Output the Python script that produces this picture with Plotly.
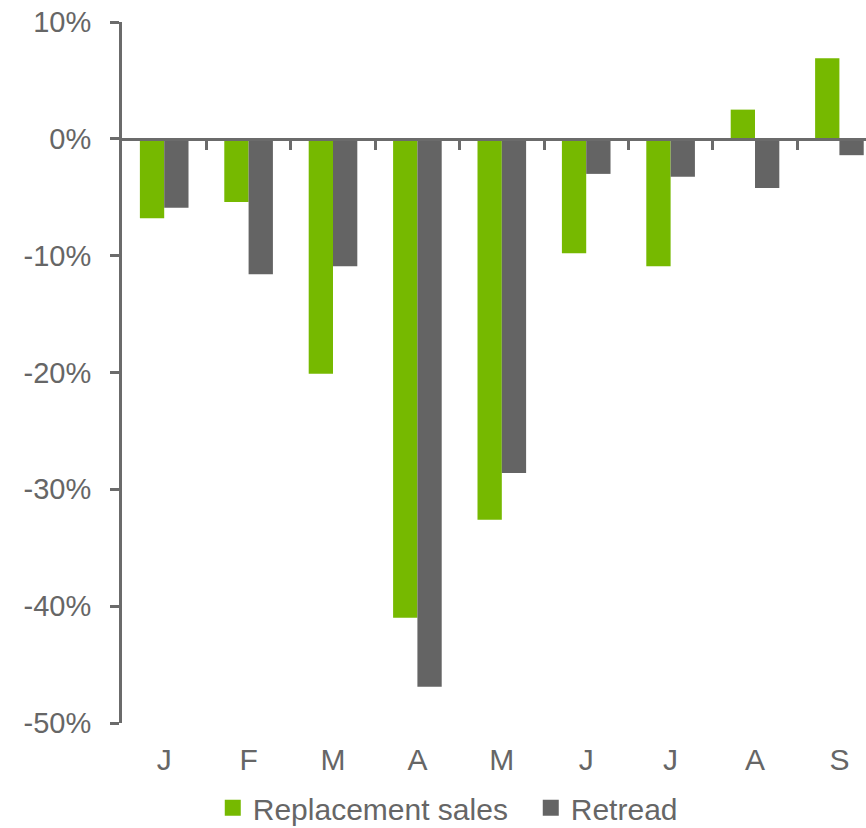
import plotly.graph_objects as go

# Monthly year-on-year change (%)
months = ["J", "F", "M", "A", "M", "J", "J", "A", "S"]
replacement_sales = [-6.8, -5.4, -20.1, -41.0, -32.6, -9.8, -10.9, 2.5, 6.9]
retread = [-5.9, -11.6, -10.9, -46.9, -28.6, -3.0, -3.25, -4.2, -1.4]

# y-axis ticks (plain hyphen for negatives)
y_ticks = [10, 0, -10, -20, -30, -40, -50]
y_tick_labels = ["10%", "0%", "-10%", "-20%", "-30%", "-40%", "-50%"]

GREEN = "#76b900"
GREY = "#646464"
AXIS = "#6b6b6b"
TEXT = "#666666"
FONT = "Liberation Sans, Arial, sans-serif"

positions = list(range(len(months)))

fig = go.Figure()
fig.add_trace(go.Bar(x=positions, y=replacement_sales, name="Replacement sales",
                     marker=dict(color=GREEN, line=dict(width=0)), showlegend=False))
fig.add_trace(go.Bar(x=positions, y=retread, name="Retread",
                     marker=dict(color=GREY, line=dict(width=0)), showlegend=False))

# legend entries with larger square swatches
fig.add_trace(go.Scatter(x=[None], y=[None], mode="markers", name="Replacement sales",
                         marker=dict(symbol="square", size=16, color=GREEN)))
fig.add_trace(go.Scatter(x=[None], y=[None], mode="markers", name="Retread",
                         marker=dict(symbol="square", size=16, color=GREY)))

# helper trace so the zero-crossing category axis is drawn
fig.add_trace(go.Scatter(x=[None], y=[None], xaxis="x2", showlegend=False,
                         hoverinfo="skip"))

x_range = [-0.5, 8.315]
y_min, y_max = -50, 10

fig.update_layout(
    width=866, height=828,
    margin=dict(l=122, r=0, t=22, b=105, autoexpand=False),
    paper_bgcolor="white", plot_bgcolor="white",
    font=dict(family=FONT, color=TEXT, size=29),
    barmode="group", bargap=0.424, bargroupgap=0,
    xaxis=dict(
        range=x_range, tickvals=positions, ticktext=months,
        showline=False, showgrid=False, zeroline=False, ticks="",
        tickfont=dict(size=30, color=TEXT), ticklabelstandoff=16,
    ),
    xaxis2=dict(
        range=x_range, overlaying="x", anchor="free",
        position=(0 - y_min) / (y_max - y_min),
        showline=True, linewidth=3, linecolor=AXIS,
        tickvals=[p + 0.5 for p in positions[:-1]], ticks="outside",
        ticklen=9, tickwidth=3, tickcolor=AXIS,
        showticklabels=False, showgrid=False, zeroline=False,
    ),
    yaxis=dict(
        range=[y_min, y_max], tickvals=y_ticks, ticktext=y_tick_labels,
        showline=True, linewidth=3, linecolor=AXIS,
        ticks="outside", ticklen=9, tickwidth=3, tickcolor=AXIS,
        showgrid=False, zeroline=False,
        tickfont=dict(size=29, color=TEXT), ticklabelstandoff=13,
    ),
    legend=dict(
        orientation="h", x=0.122, xanchor="left", y=-0.121, yanchor="middle",
        font=dict(size=30, color=TEXT), bgcolor="rgba(0,0,0,0)",
        entrywidth=273, entrywidthmode="pixels", tracegroupgap=0,
    ),
)

fig.write_html("out.html")
